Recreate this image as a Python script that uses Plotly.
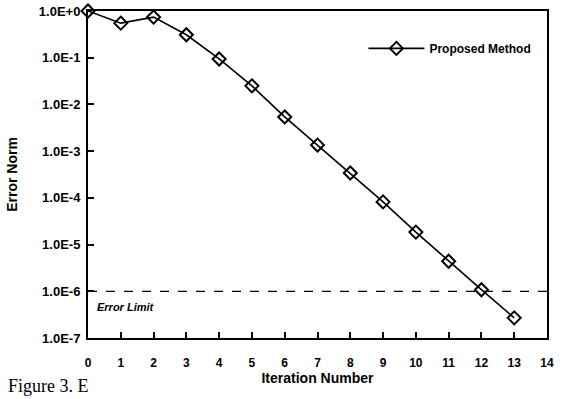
import plotly.graph_objects as go

iterations = [0, 1, 2, 3, 4, 5, 6, 7, 8, 9, 10, 11, 12, 13]
error_norm = [1.0, 0.55, 0.74, 0.31, 0.094, 0.025, 0.0054, 0.00135,
              3.4e-4, 8.2e-5, 1.85e-5, 4.4e-6, 1.08e-6, 2.7e-7]
error_limit = 1.0e-6
limit_x = [0, 14]
y_tickvals = [1e0, 1e-1, 1e-2, 1e-3, 1e-4, 1e-5, 1e-6, 1e-7]
y_ticktext = ["1.0E+0", "1.0E-1", "1.0E-2", "1.0E-3", "1.0E-4",
              "1.0E-5", "1.0E-6", "1.0E-7"]
x_tickvals = list(range(0, 15))

FONT = "Liberation Sans, Arial, sans-serif"

fig = go.Figure()
fig.add_trace(go.Scatter(
    x=limit_x, y=[error_limit, error_limit], mode="lines",
    line=dict(color="black", width=1.3, dash="dash"),
    showlegend=False, hoverinfo="skip"))
fig.add_trace(go.Scatter(
    x=iterations, y=error_norm, mode="lines+markers", name="Proposed Method",
    line=dict(color="black", width=1.6),
    marker=dict(symbol="diamond-open", size=10, color="black",
                line=dict(width=2, color="black")),
    cliponaxis=False))

fig.update_layout(
    width=564, height=399,
    margin=dict(l=88, r=17, t=11, b=61, autoexpand=False),
    paper_bgcolor="white", plot_bgcolor="white",
    font=dict(family=FONT, color="black", size=11),
    legend=dict(x=0.60, y=0.93, xanchor="left", yanchor="top",
                bgcolor="rgba(0,0,0,0)", itemwidth=56,
                font=dict(family=FONT, size=12, color="black", weight="bold")),
    annotations=[
        dict(text="<i><b>Error Limit</b></i>", xref="paper", yref="paper",
             x=0.016, y=0.095, xanchor="left", yanchor="middle",
             showarrow=False, font=dict(family=FONT, size=11, color="black")),
        dict(text="Figure 3. E", xref="paper", yref="paper",
             x=-0.178, y=-0.184, xanchor="left", yanchor="bottom",
             showarrow=False,
             font=dict(family="Liberation Serif, Times New Roman, serif",
                       size=18, color="black")),
    ],
)
fig.update_xaxes(
    range=[0, 14], tickvals=x_tickvals, ticks="inside", ticklen=6,
    tickwidth=1.5, tickcolor="black", showline=True, linecolor="black",
    linewidth=2, mirror=True, showgrid=False, zeroline=False,
    automargin=False, ticklabelstandoff=13,
    tickfont=dict(family=FONT, size=12, color="black", weight="bold"),
    title=dict(text="Iteration Number", standoff=4,
               font=dict(family=FONT, size=14, color="black", weight="bold")))
fig.update_yaxes(
    type="log", range=[-7, 0], tickvals=y_tickvals, ticktext=y_ticktext,
    ticks="inside", ticklen=6, tickwidth=1.5, tickcolor="black",
    showline=True, linecolor="black", linewidth=2, mirror=True,
    showgrid=False, zeroline=False, automargin=False, ticklabelstandoff=3,
    tickfont=dict(family=FONT, size=13, color="black", weight="bold"),
    title=dict(text="Error Norm", standoff=18,
               font=dict(family=FONT, size=14, color="black", weight="bold")))

fig.write_html(
    "out.html",
    config={"displayModeBar": False},
    post_script="document.body.style.margin='0';document.body.style.overflow='hidden';")
